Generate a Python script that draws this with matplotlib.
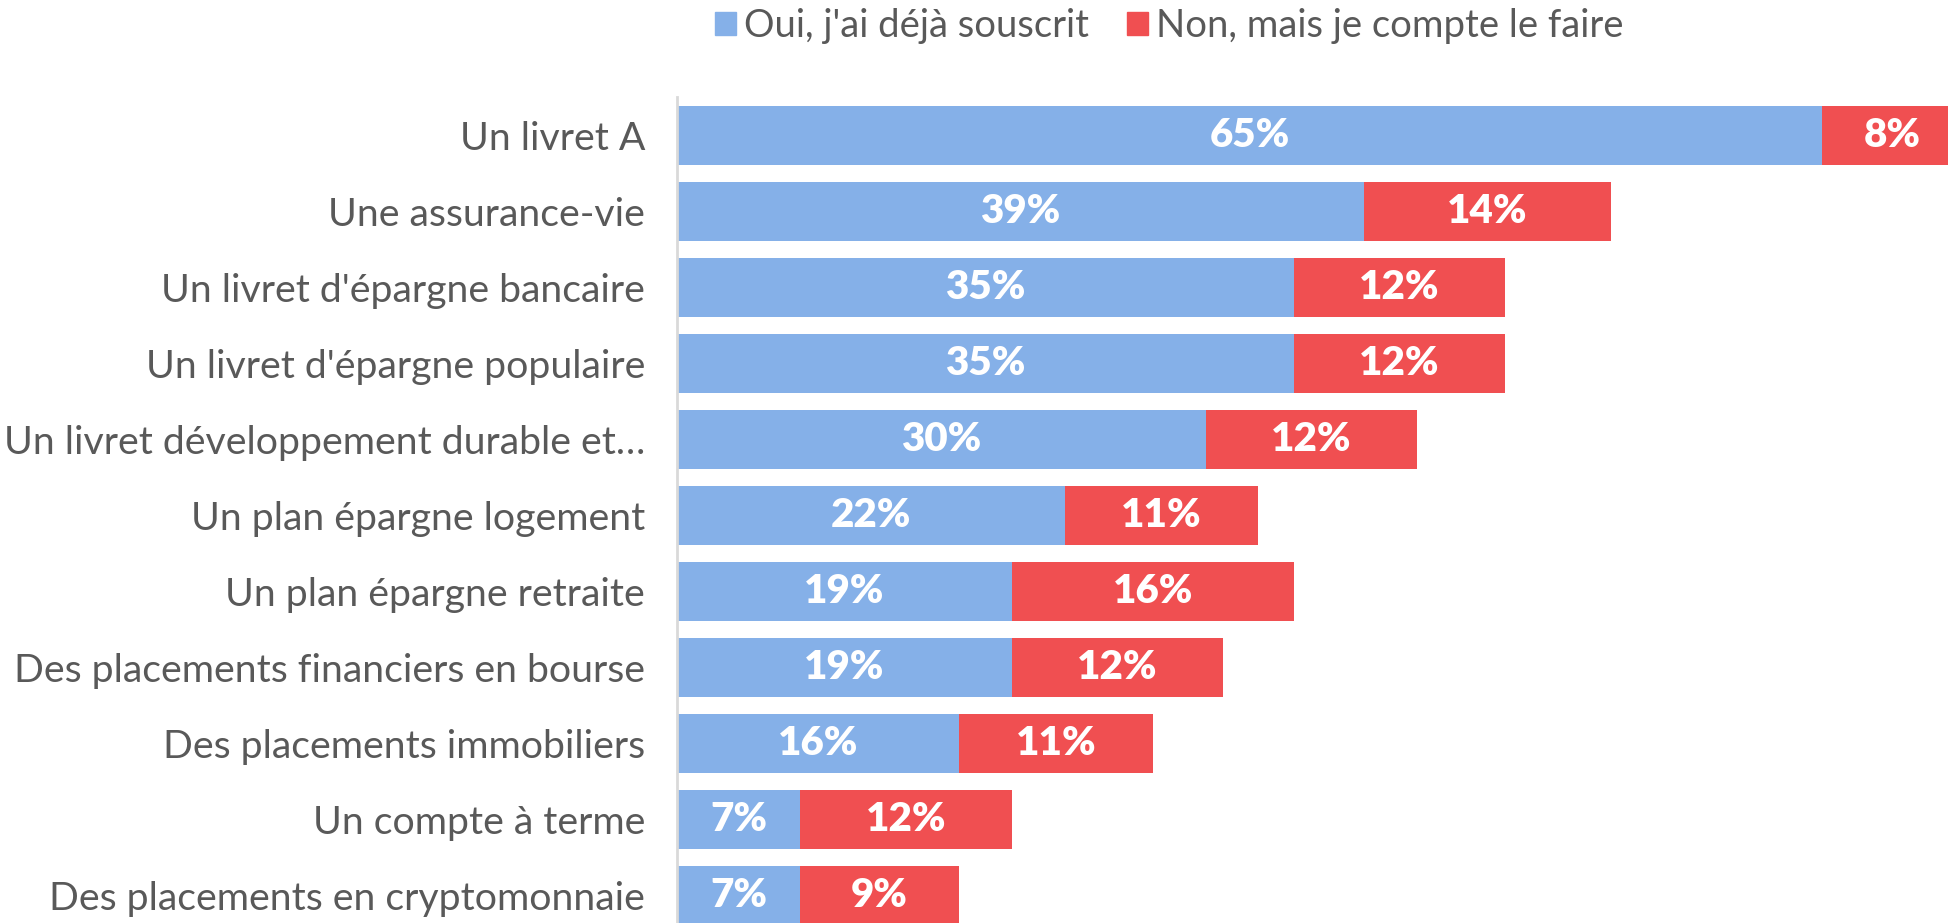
import matplotlib.pyplot as plt
from matplotlib.patches import Patch

categories = ["Un livret A", "Une assurance-vie", "Un livret d'épargne bancaire",
              "Un livret d'épargne populaire", "Un livret développement durable et…",
              "Un plan épargne logement", "Un plan épargne retraite",
              "Des placements financiers en bourse", "Des placements immobiliers",
              "Un compte à terme", "Des placements en cryptomonnaie"]
oui = [65, 39, 35, 35, 30, 22, 19, 19, 16, 7, 7]
non = [8, 14, 12, 12, 12, 11, 16, 12, 11, 12, 9]
series_names = ["Oui, j'ai déjà souscrit", "Non, mais je compte le faire"]

blue = "#85B0E8"
red = "#F04F51"
grey = "#595959"

plt.rcParams['font.family'] = ['Lato', 'DejaVu Sans']

fig = plt.figure(figsize=(19.49, 9.23), dpi=100)
ax = fig.add_axes([0.3474, 0.0, 0.6526, 0.8949])

y = list(range(len(categories)))
ax.barh(y, oui, height=0.775, color=blue)
ax.barh(y, non, left=oui, height=0.775, color=red)

for i in y:
    ax.text(oui[i] / 2, i, f"{oui[i]}%", ha='center', va='center',
            color='white', fontsize=29, fontweight='heavy')
    ax.text(oui[i] + non[i] / 2, i, f"{non[i]}%", ha='center', va='center',
            color='white', fontsize=29, fontweight='heavy')

ax.set_xlim(0, 72.2)
ax.set_ylim(10.36, -0.5)
ax.set_yticks(y)
ax.set_yticklabels(categories, fontsize=28.3, color=grey)
ax.tick_params(axis='y', length=0, pad=23)
ax.set_xticks([])
for s in ['top', 'right', 'bottom']:
    ax.spines[s].set_visible(False)
ax.spines['left'].set_color('#D9D9D9')
ax.spines['left'].set_linewidth(2)

handles = [Patch(color=blue), Patch(color=red)]
fig.legend(handles, series_names, loc='center', bbox_to_anchor=(0.600, 0.972),
           ncol=2, frameon=False, labelcolor=grey,
           handlelength=0.55, handleheight=0.55, handletextpad=0.2,
           columnspacing=1.0, prop={'size': 27.5})

fig.savefig("out.png", dpi=100)
